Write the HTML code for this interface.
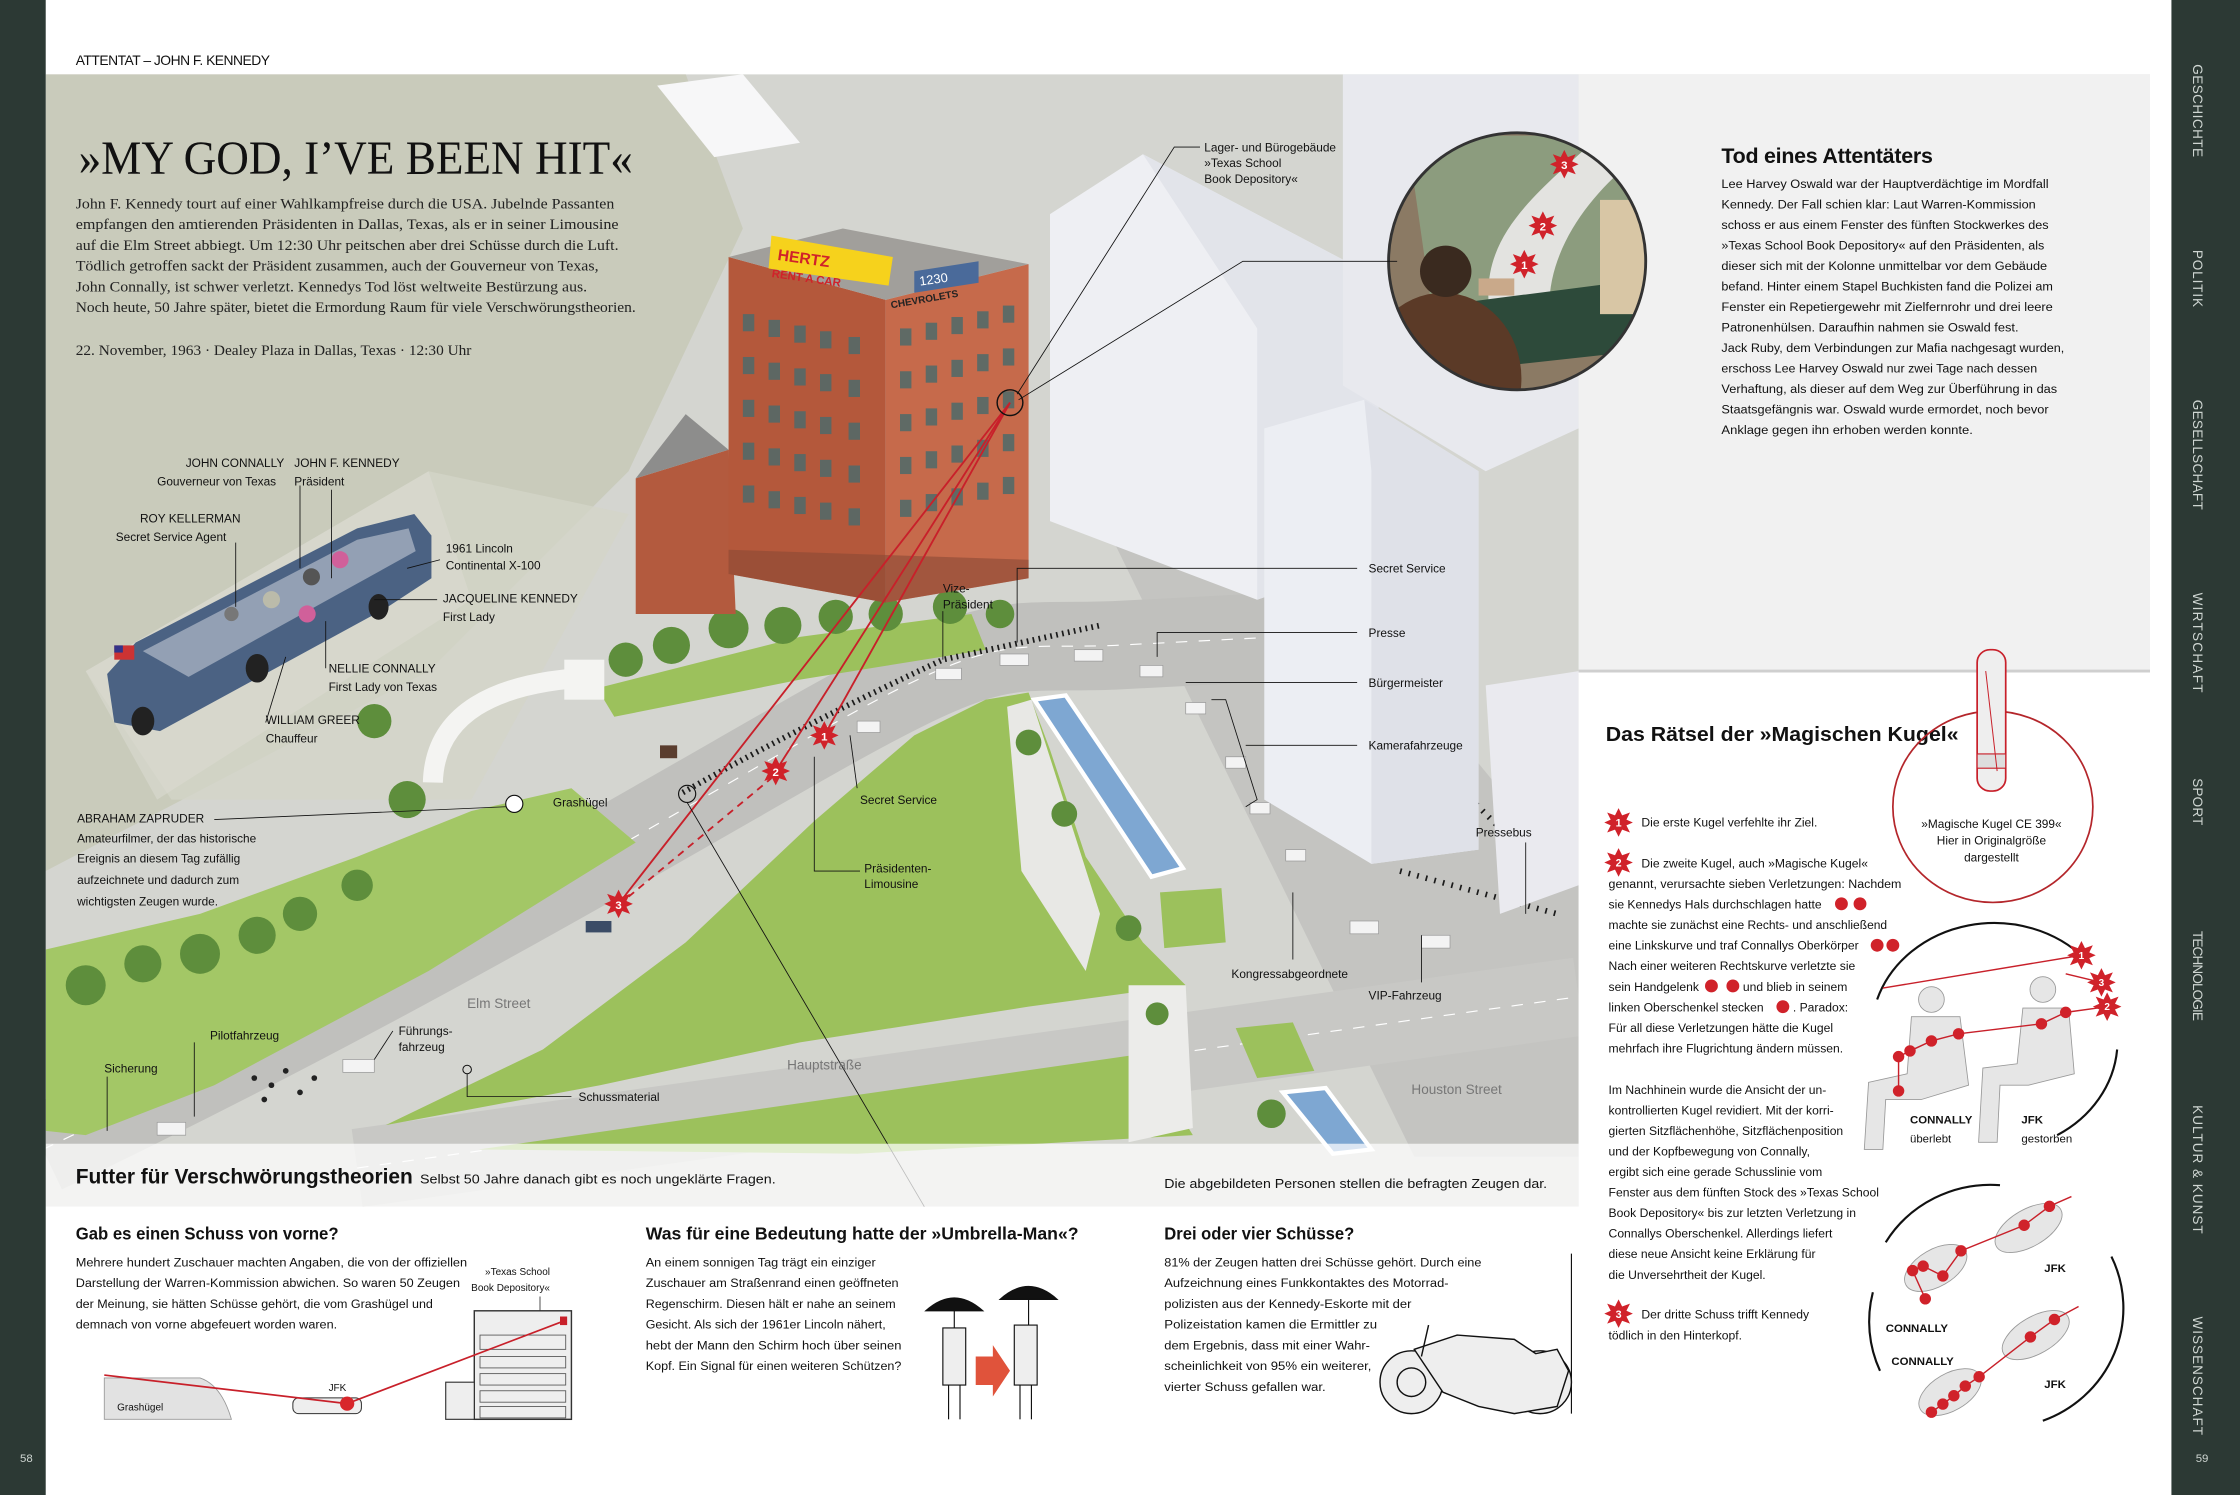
<!DOCTYPE html>
<html><head><meta charset="utf-8"><style>
html,body{margin:0;padding:0;background:#fff;}
svg{display:block;}
.n{font-family:"Liberation Sans Narrow","Liberation Sans",sans-serif;}
.s{font-family:"Liberation Sans",sans-serif;}
.sf{font-family:"Liberation Serif",serif;}
</style></head><body>
<svg width="2240" height="1495" viewBox="0 0 1568 1047" preserveAspectRatio="none" xmlns="http://www.w3.org/2000/svg">
<defs>
<clipPath id="mapclip"><rect x="32" y="52" width="1473" height="793"/></clipPath>
<clipPath id="insclip"><circle cx="1062" cy="183" r="90"/></clipPath>
<g id="star"><polygon points="0,-10 2.5,-5 8,-7 5.5,-2 10,0 5.5,2 8,7 2.5,5 0,10 -2.5,5 -8,7 -5.5,2 -10,0 -5.5,-2 -8,-7 -2.5,-5" fill="#d0222a"/><circle r="5.5" fill="#d0222a"/></g>
</defs>
<rect width="1568" height="1047" fill="#fff"/>

<!-- MAP -->
<g clip-path="url(#mapclip)">
<rect x="32" y="52" width="1473" height="793" fill="#d4d5d0"/>
<polygon points="32,52 480,52 520,160 440,330 300,470 32,610" fill="#c9cbbb"/>
<polygon points="60,470 300,330 440,360 330,560 120,560" fill="#d3d5c8" opacity="0.8"/>
<!-- roads -->
<polygon points="780,380 900,370 1105,620 1105,810 990,810" fill="#c4c4c1"/>
<path d="M30 805 C250 700 420 600 560 520 S700 455 780 452 L1010 440" stroke="#c0c0bd" stroke-width="62" fill="none"/>
<path d="M30 805 C250 700 420 600 560 520 S700 455 780 452 L1010 440" stroke="#fff" stroke-width="0.8" stroke-dasharray="8 8" fill="none"/>
<path d="M250 818 L1105 698" stroke="#c8c8c5" stroke-width="55"/>
<path d="M250 818 L1105 698" stroke="#fff" stroke-width="0.8" stroke-dasharray="8 8"/>
<!-- lawns -->
<polygon points="270,788 380,735 480,660 570,575 640,515 690,490 720,485 735,525 760,600 800,660 830,690 720,705 560,730 420,760" fill="#9cc15c"/>
<polygon points="335,805 800,738 835,795 600,808" fill="#9cc15c"/>
<polygon points="32,792 32,665 140,640 250,600 330,568 400,552 445,590 300,680 150,760 60,795" fill="#a3c766"/>
<polygon points="418,482 560,446 680,430 690,455 560,476 430,502" fill="#9cc15c"/>
<polygon points="812,625 855,622 858,660 815,664" fill="#9cc15c"/>
<polygon points="865,720 905,716 920,750 880,755" fill="#9cc15c"/>
<!-- pools & monuments -->
<polygon points="724,490 746,487 828,608 806,614" fill="#7ea7d2" stroke="#fff" stroke-width="3"/>
<polygon points="898,765 928,762 960,805 933,808" fill="#7ea7d2" stroke="#fff" stroke-width="3"/>
<path d="M303 548 Q305 478 420 474" stroke="#f4f4f2" stroke-width="14" fill="none"/>
<rect x="395" y="462" width="28" height="28" fill="#f4f4f2"/>
<polygon points="705,495 722,490 770,640 760,680 715,610" fill="#e8e8e5"/>
<polygon points="790,690 830,690 835,790 790,800" fill="#ececea"/>
<rect x="462" y="522" width="12" height="9" fill="#5a3d2e"/>
<!-- trees -->
<g fill="#5e8e3c">
<circle cx="438" cy="462" r="12"/><circle cx="470" cy="452" r="13"/><circle cx="510" cy="440" r="14"/><circle cx="548" cy="438" r="13"/><circle cx="585" cy="432" r="12"/><circle cx="620" cy="430" r="12"/><circle cx="665" cy="425" r="12"/><circle cx="700" cy="430" r="10"/>
<circle cx="60" cy="690" r="14"/><circle cx="100" cy="675" r="13"/><circle cx="140" cy="668" r="14"/><circle cx="180" cy="655" r="13"/><circle cx="210" cy="640" r="12"/><circle cx="250" cy="620" r="11"/><circle cx="285" cy="560" r="13"/><circle cx="262" cy="505" r="12"/>
<circle cx="720" cy="520" r="9"/><circle cx="745" cy="570" r="9"/><circle cx="790" cy="650" r="9"/><circle cx="890" cy="780" r="10"/><circle cx="810" cy="710" r="8"/>
</g>
<!-- crowd -->
<path d="M478 555 C540 520 600 490 660 462 L770 438" stroke="#1a1a1a" stroke-width="4" stroke-dasharray="1.2 3" fill="none"/>
<path d="M950 480 L1030 560 L1070 600 L1100 620" stroke="#1a1a1a" stroke-width="4" stroke-dasharray="1.2 5" fill="none"/>
<path d="M980 610 L1090 640" stroke="#1a1a1a" stroke-width="4" stroke-dasharray="1.2 5" fill="none"/>
<!-- cars -->
<g fill="#f3f3f3" stroke="#999" stroke-width="0.5">
<rect x="655" y="468" width="18" height="8"/><rect x="700" y="458" width="20" height="8"/><rect x="752" y="455" width="20" height="8"/><rect x="798" y="466" width="16" height="8"/><rect x="830" y="492" width="14" height="8"/><rect x="858" y="530" width="14" height="8"/><rect x="875" y="562" width="14" height="8"/><rect x="900" y="595" width="14" height="8"/><rect x="945" y="645" width="20" height="9"/><rect x="995" y="655" width="20" height="9"/><rect x="600" y="505" width="16" height="8"/><rect x="240" y="742" width="22" height="9"/><rect x="110" y="786" width="20" height="9"/>
</g>
<rect x="410" y="645" width="18" height="8" fill="#3b4c66"/>
<g fill="#222"><circle cx="178" cy="755" r="2"/><circle cx="190" cy="760" r="2"/><circle cx="200" cy="750" r="2"/><circle cx="210" cy="765" r="2"/><circle cx="185" cy="770" r="2"/><circle cx="220" cy="755" r="2"/></g>
<!-- white buildings -->
<polygon points="460,60 520,52 560,100 500,110" fill="#f7f7f8"/>
<polygon points="735,150 800,108 965,195 965,390 880,420 735,365" fill="#eeeff3"/>
<polygon points="800,108 965,195 965,390 880,420 880,230" fill="#e2e4ea"/>
<polygon points="885,300 955,280 1035,330 1035,595 960,605 885,560" fill="#eceef3"/>
<polygon points="955,280 1035,330 1035,595 960,605 960,330" fill="#dfe1e8"/>
<polygon points="940,52 1105,52 1105,300 1040,330 940,270" fill="#e8e9ee"/>
<polygon points="1040,480 1105,470 1105,620 1050,640" fill="#eaeaef"/>
<!-- depository -->
<polygon points="445,335 510,315 515,430 445,430" fill="#b35a3e"/>
<polygon points="445,335 480,290 510,315" fill="#8d8d8c"/>
<polygon points="510,180 620,210 620,422 510,402" fill="#b4583b"/>
<polygon points="620,210 720,185 720,405 620,422" fill="#c66a4b"/>
<polygon points="510,180 590,160 720,185 620,210" fill="#a19f9b"/>
<g fill="#4e6a6a" opacity="0.85">
<rect x="520" y="220" width="8" height="12"/><rect x="538" y="224" width="8" height="12"/><rect x="556" y="228" width="8" height="12"/><rect x="574" y="232" width="8" height="12"/><rect x="594" y="236" width="8" height="12"/>
<rect x="520" y="250" width="8" height="12"/><rect x="538" y="254" width="8" height="12"/><rect x="556" y="258" width="8" height="12"/><rect x="574" y="262" width="8" height="12"/><rect x="594" y="266" width="8" height="12"/>
<rect x="520" y="280" width="8" height="12"/><rect x="538" y="284" width="8" height="12"/><rect x="556" y="288" width="8" height="12"/><rect x="574" y="292" width="8" height="12"/><rect x="594" y="296" width="8" height="12"/>
<rect x="520" y="310" width="8" height="12"/><rect x="538" y="314" width="8" height="12"/><rect x="556" y="318" width="8" height="12"/><rect x="574" y="322" width="8" height="12"/><rect x="594" y="326" width="8" height="12"/>
<rect x="520" y="340" width="8" height="12"/><rect x="538" y="344" width="8" height="12"/><rect x="556" y="348" width="8" height="12"/><rect x="574" y="352" width="8" height="12"/><rect x="594" y="356" width="8" height="12"/>
<rect x="630" y="230" width="8" height="12"/><rect x="648" y="226" width="8" height="12"/><rect x="666" y="222" width="8" height="12"/><rect x="684" y="218" width="8" height="12"/><rect x="702" y="214" width="8" height="12"/>
<rect x="630" y="260" width="8" height="12"/><rect x="648" y="256" width="8" height="12"/><rect x="666" y="252" width="8" height="12"/><rect x="684" y="248" width="8" height="12"/><rect x="702" y="244" width="8" height="12"/>
<rect x="630" y="290" width="8" height="12"/><rect x="648" y="286" width="8" height="12"/><rect x="666" y="282" width="8" height="12"/><rect x="684" y="278" width="8" height="12"/><rect x="702" y="274" width="8" height="12"/>
<rect x="630" y="320" width="8" height="12"/><rect x="648" y="316" width="8" height="12"/><rect x="666" y="312" width="8" height="12"/><rect x="684" y="308" width="8" height="12"/><rect x="702" y="304" width="8" height="12"/>
<rect x="630" y="350" width="8" height="12"/><rect x="648" y="346" width="8" height="12"/><rect x="666" y="342" width="8" height="12"/><rect x="684" y="338" width="8" height="12"/><rect x="702" y="334" width="8" height="12"/>
</g>
<polygon points="510,385 720,392 720,405 620,422 510,402" fill="#8a4a35" opacity="0.6"/>
<polygon points="540,165 625,180 622,200 538,188" fill="#f6d21c"/>
<text x="544" y="182" class="s" font-size="11" font-weight="bold" fill="#d0222a" transform="rotate(8 544 182)">HERTZ</text>
<text x="540" y="194" class="s" font-size="8" font-weight="bold" fill="#d0222a" transform="rotate(8 540 194)">RENT A CAR</text>
<polygon points="640,190 685,183 685,198 640,205" fill="#4a6a9a"/>
<text x="644" y="200" class="s" font-size="9" fill="#fff" transform="rotate(-8 644 200)">1230</text>
<text x="624" y="216" class="s" font-size="7" font-weight="bold" fill="#222" transform="rotate(-10 624 216)">CHEVROLETS</text>
<!-- car inset -->
<polygon points="60,470 300,330 330,420 110,560" fill="#dadbd0" opacity="0.6"/>
<polygon points="75,472 95,450 250,370 290,360 302,375 302,405 270,426 112,512 80,506" fill="#4b6283"/>
<polygon points="100,456 250,378 286,370 291,386 132,474" fill="#93a0b4"/>
<circle cx="190" cy="420" r="6" fill="#bba"/><circle cx="218" cy="404" r="6" fill="#555"/><circle cx="238" cy="392" r="6" fill="#d0609a"/><circle cx="215" cy="430" r="6" fill="#d0609a"/><circle cx="162" cy="430" r="5" fill="#777"/>
<ellipse cx="100" cy="505" rx="8" ry="10" fill="#222"/><ellipse cx="180" cy="468" rx="8" ry="10" fill="#222"/><ellipse cx="265" cy="425" rx="7" ry="9" fill="#222"/>
<rect x="80" y="452" width="14" height="10" fill="#c33"/><rect x="80" y="452" width="6" height="5" fill="#338"/>
<!-- shot lines -->
<g stroke="#c8202a" stroke-width="1.3" fill="none">
<line x1="707" y1="282" x2="577" y2="515"/><line x1="707" y1="282" x2="543" y2="540"/><line x1="707" y1="282" x2="433" y2="633"/>
<line x1="440" y1="628" x2="540" y2="545" stroke-dasharray="5 4"/>
</g>
<use href="#star" x="577" y="515"/><text x="577" y="518.5" class="s" font-size="8" font-weight="bold" fill="#fff" text-anchor="middle">1</text>
<use href="#star" x="543" y="540"/><text x="543" y="543.5" class="s" font-size="8" font-weight="bold" fill="#fff" text-anchor="middle">2</text>
<use href="#star" x="433" y="633"/><text x="433" y="636.5" class="s" font-size="8" font-weight="bold" fill="#fff" text-anchor="middle">3</text>
<circle cx="707" cy="282" r="9" fill="none" stroke="#111" stroke-width="1"/>
<circle cx="360" cy="563" r="6" fill="#fff" stroke="#111" stroke-width="0.8"/>
<circle cx="481" cy="556" r="6" fill="none" stroke="#111" stroke-width="0.8"/>
<!-- right top faded -->
<rect x="1105" y="52" width="400" height="420" fill="#f4f4f4" opacity="0.9"/>
</g>

<!-- circle inset -->
<g clip-path="url(#insclip)">
<rect x="970" y="90" width="185" height="185" fill="#8b7a64"/>
<polygon points="985,95 1140,95 1140,205 1005,235" fill="#8c9c7e"/>
<path d="M1120 95 C1070 140 1030 170 1045 230 L1085 225 C1080 180 1110 140 1140 115 Z" fill="#e3e3e0"/>
<polygon points="1000,215 1155,195 1155,245 1000,262" fill="#2d4a3a"/>
<rect x="1120" y="140" width="40" height="80" fill="#d8c6a5"/>
<ellipse cx="1010" cy="265" rx="55" ry="60" fill="#5b3a27"/>
<circle cx="1012" cy="190" r="18" fill="#3a2a1f"/>
<rect x="1035" y="195" width="25" height="12" fill="#c9a98a"/>
</g>
<circle cx="1062" cy="183" r="90" fill="none" stroke="#333" stroke-width="2"/>
<use href="#star" x="1067" y="185" transform="translate(0,0)"/><text x="1067" y="188.5" class="s" font-size="8" font-weight="bold" fill="#fff" text-anchor="middle">1</text>
<use href="#star" x="1080" y="158"/><text x="1080" y="161.5" class="s" font-size="8" font-weight="bold" fill="#fff" text-anchor="middle">2</text>
<use href="#star" x="1095" y="115"/><text x="1095" y="118.5" class="s" font-size="8" font-weight="bold" fill="#fff" text-anchor="middle">3</text>

<!-- leader lines -->
<g stroke="#111" stroke-width="0.6" fill="none">
<polyline points="840,103 822,103 712,276"/>
<polyline points="978,183 870,183 713,280"/>
<line x1="232" y1="343" x2="232" y2="405"/><line x1="210" y1="340" x2="210" y2="398"/><line x1="165" y1="380" x2="165" y2="425"/>
<line x1="308" y1="392" x2="285" y2="398"/><line x1="306" y1="420" x2="262" y2="420"/><line x1="228" y1="468" x2="228" y2="435"/><line x1="186" y1="506" x2="200" y2="460"/>
<line x1="150" y1="574" x2="354" y2="565"/>
<line x1="660" y1="428" x2="660" y2="462"/>
<polyline points="950,398 712,398 712,450"/>
<polyline points="950,443 810,443 810,460"/>
<line x1="950" y1="478" x2="830" y2="478"/>
<polyline points="950,522 872,522"/><polyline points="848,490 858,490 880,560 872,565"/>
<line x1="600" y1="552" x2="595" y2="515"/>
<polyline points="602,610 570,610 570,530"/>
<line x1="1068" y1="590" x2="1068" y2="640"/>
<line x1="905" y1="672" x2="905" y2="625"/>
<line x1="995" y1="688" x2="995" y2="655"/>
<line x1="136" y1="730" x2="136" y2="782"/><line x1="75" y1="754" x2="75" y2="792"/><line x1="275" y1="722" x2="262" y2="742"/>
<polyline points="400,768 327,768 327,752"/>
<line x1="481" y1="562" x2="647" y2="845"/>
</g>
<circle cx="327" cy="749" r="3" fill="none" stroke="#111" stroke-width="0.7"/>

<!-- map labels -->
<g class="n" font-size="8.3" fill="#111">
<text x="843" y="106">Lager- und Bürogebäude</text><text x="843" y="117">»Texas School</text><text x="843" y="128">Book Depository«</text>
<text x="130" y="327">JOHN CONNALLY</text><text x="110" y="340">Gouverneur von Texas</text>
<text x="206" y="327">JOHN F. KENNEDY</text><text x="206" y="340">Präsident</text>
<text x="98" y="366">ROY KELLERMAN</text><text x="81" y="379">Secret Service Agent</text>
<text x="312" y="387">1961 Lincoln</text><text x="312" y="399">Continental X-100</text>
<text x="310" y="422">JACQUELINE KENNEDY</text><text x="310" y="435">First Lady</text>
<text x="230" y="471">NELLIE CONNALLY</text><text x="230" y="484">First Lady von Texas</text>
<text x="186" y="507">WILLIAM GREER</text><text x="186" y="520">Chauffeur</text>
<text x="54" y="576">ABRAHAM ZAPRUDER</text>
<text x="54" y="590">Amateurfilmer, der das historische</text><text x="54" y="604">Ereignis an diesem Tag zufällig</text><text x="54" y="619">aufzeichnete und dadurch zum</text><text x="54" y="634">wichtigsten Zeugen wurde.</text>
<text x="387" y="565">Grashügel</text>
<text x="660" y="415">Vize-</text><text x="660" y="426">Präsident</text>
<text x="958" y="401">Secret Service</text><text x="958" y="446">Presse</text><text x="958" y="481">Bürgermeister</text><text x="958" y="525">Kamerafahrzeuge</text>
<text x="602" y="563">Secret Service</text><text x="605" y="611">Präsidenten-</text><text x="605" y="622">Limousine</text>
<text x="1033" y="586">Pressebus</text><text x="862" y="685">Kongressabgeordnete</text><text x="958" y="700">VIP-Fahrzeug</text>
<text x="147" y="728">Pilotfahrzeug</text><text x="279" y="725">Führungs-</text><text x="279" y="736">fahrzeug</text><text x="73" y="751">Sicherung</text><text x="405" y="771">Schussmaterial</text>
</g>
<g class="n" font-size="9.5" fill="#777"><text x="327" y="706">Elm Street</text><text x="551" y="749">Hauptstraße</text><text x="988" y="766">Houston Street</text></g>

<!-- intro -->
<text x="53" y="45.5" class="n" font-size="9.7" fill="#111" textLength="136">ATTENTAT – JOHN F. KENNEDY</text>
<text x="55" y="122" class="sf" font-size="33" fill="#111" textLength="388" lengthAdjust="spacingAndGlyphs">»MY GOD, I’VE BEEN HIT«</text>
<g class="sf" font-size="10.5" fill="#222">
<text x="53" y="146" textLength="377" lengthAdjust="spacingAndGlyphs">John F. Kennedy tourt auf einer Wahlkampfreise durch die USA. Jubelnde Passanten</text>
<text x="53" y="160.5" textLength="380" lengthAdjust="spacingAndGlyphs">empfangen den amtierenden Präsidenten in Dallas, Texas, als er in seiner Limousine</text>
<text x="53" y="175" textLength="380" lengthAdjust="spacingAndGlyphs">auf die Elm Street abbiegt. Um 12:30 Uhr peitschen aber drei Schüsse durch die Luft.</text>
<text x="53" y="189.5" textLength="366" lengthAdjust="spacingAndGlyphs">Tödlich getroffen sackt der Präsident zusammen, auch der Gouverneur von Texas,</text>
<text x="53" y="204" textLength="358" lengthAdjust="spacingAndGlyphs">John Connally, ist schwer verletzt. Kennedys Tod löst weltweite Bestürzung aus.</text>
<text x="53" y="218.5" textLength="392" lengthAdjust="spacingAndGlyphs">Noch heute, 50 Jahre später, bietet die Ermordung Raum für viele Verschwörungstheorien.</text>
<text x="53" y="248.5" textLength="277" lengthAdjust="spacingAndGlyphs">22. November, 1963 · Dealey Plaza in Dallas, Texas · 12:30 Uhr</text>
</g>

<!-- Tod eines Attentäters -->
<text x="1205" y="114" class="s" font-size="15" font-weight="bold" fill="#111" textLength="148">Tod eines Attentäters</text>
<g class="n" font-size="8.6" fill="#111">
<text x="1205" y="131.6" textLength="229" lengthAdjust="spacingAndGlyphs">Lee Harvey Oswald war der Hauptverdächtige im Mordfall</text>
<text x="1205" y="146" textLength="220" lengthAdjust="spacingAndGlyphs">Kennedy. Der Fall schien klar: Laut Warren-Kommission</text>
<text x="1205" y="160.3" textLength="229" lengthAdjust="spacingAndGlyphs">schoss er aus einem Fenster des fünften Stockwerkes des</text>
<text x="1205" y="174.7" textLength="226" lengthAdjust="spacingAndGlyphs">»Texas School Book Depository« auf den Präsidenten, als</text>
<text x="1205" y="189" textLength="228" lengthAdjust="spacingAndGlyphs">dieser sich mit der Kolonne unmittelbar vor dem Gebäude</text>
<text x="1205" y="203.4" textLength="232" lengthAdjust="spacingAndGlyphs">befand. Hinter einem Stapel Buchkisten fand die Polizei am</text>
<text x="1205" y="217.7" textLength="232" lengthAdjust="spacingAndGlyphs">Fenster ein Repetiergewehr mit Zielfernrohr und drei leere</text>
<text x="1205" y="232" textLength="208" lengthAdjust="spacingAndGlyphs">Patronenhülsen. Daraufhin nahmen sie Oswald fest.</text>
<text x="1205" y="246.4" textLength="240" lengthAdjust="spacingAndGlyphs">Jack Ruby, dem Verbindungen zur Mafia nachgesagt wurden,</text>
<text x="1205" y="260.8" textLength="221" lengthAdjust="spacingAndGlyphs">erschoss Lee Harvey Oswald nur zwei Tage nach dessen</text>
<text x="1205" y="275.2" textLength="235" lengthAdjust="spacingAndGlyphs">Verhaftung, als dieser auf dem Weg zur Überführung in das</text>
<text x="1205" y="289.5" textLength="229" lengthAdjust="spacingAndGlyphs">Staatsgefängnis war. Oswald wurde ermordet, noch bevor</text>
<text x="1205" y="303.9" textLength="176" lengthAdjust="spacingAndGlyphs">Anklage gegen ihn erhoben werden konnte.</text>
</g>

<!-- footer strip over map -->
<rect x="32" y="801" width="1073" height="44" fill="#fff" opacity="0.72"/>
<text x="53" y="829" class="n" font-size="15" font-weight="bold" fill="#111" textLength="236" lengthAdjust="spacingAndGlyphs">Futter für Verschwörungstheorien</text>
<text x="294" y="829" class="n" font-size="9" fill="#111" textLength="249" lengthAdjust="spacingAndGlyphs">Selbst 50 Jahre danach gibt es noch ungeklärte Fragen.</text>
<text x="815" y="832" class="n" font-size="9" fill="#111" textLength="268" lengthAdjust="spacingAndGlyphs">Die abgebildeten Personen stellen die befragten Zeugen dar.</text>

<!-- right lower panel -->
<rect x="1105" y="470" width="400" height="577" fill="#fff"/>
<line x1="1105" y1="470" x2="1505" y2="470" stroke="#cfcfcf" stroke-width="2"/>
<text x="1124" y="519" class="s" font-size="14" font-weight="bold" fill="#111" textLength="247" lengthAdjust="spacingAndGlyphs">Das Rätsel der »Magischen Kugel«</text>
<ellipse cx="1395" cy="565" rx="70" ry="67" fill="none" stroke="#b4262b" stroke-width="1.2"/>
<rect x="1384" y="455" width="20" height="99" rx="9" fill="#eeeeee" stroke="#c8202a" stroke-width="1.2"/>
<rect x="1384" y="528" width="20" height="10" fill="#ddd" stroke="#c8202a" stroke-width="0.8"/>
<line x1="1390" y1="470" x2="1398" y2="540" stroke="#c8202a" stroke-width="0.7"/>
<g class="s" font-size="8.3" fill="#111" text-anchor="middle"><text x="1394" y="580">»Magische Kugel CE 399«</text><text x="1394" y="591.5">Hier in Originalgröße</text><text x="1394" y="603.5">dargestellt</text></g>
<g class="s" font-size="8.5" fill="#111">
<text x="1149" y="579">Die erste Kugel verfehlte ihr Ziel.</text>
<text x="1149" y="607.5">Die zweite Kugel, auch »Magische Kugel«</text>
<text x="1126" y="621.9" textLength="205" lengthAdjust="spacingAndGlyphs">genannt, verursachte sieben Verletzungen: Nachdem</text>
<text x="1126" y="636.3">sie Kennedys Hals durchschlagen hatte</text>
<text x="1126" y="650.7" textLength="195" lengthAdjust="spacingAndGlyphs">machte sie zunächst eine Rechts- und anschließend</text>
<text x="1126" y="665.1">eine Linkskurve und traf Connallys Oberkörper</text>
<text x="1126" y="679.5">Nach einer weiteren Rechtskurve verletzte sie</text>
<text x="1126" y="693.9">sein Handgelenk</text><text x="1220" y="693.9">und blieb in seinem</text>
<text x="1126" y="708.3">linken Oberschenkel stecken</text><text x="1255" y="708.3">. Paradox:</text>
<text x="1126" y="722.7">Für all diese Verletzungen hätte die Kugel</text>
<text x="1126" y="737.1">mehrfach ihre Flugrichtung ändern müssen.</text>
<text x="1126" y="766">Im Nachhinein wurde die Ansicht der un-</text>
<text x="1126" y="780.4">kontrollierten Kugel revidiert. Mit der korri-</text>
<text x="1126" y="794.8">gierten Sitzflächenhöhe, Sitzflächenposition</text>
<text x="1126" y="809.2">und der Kopfbewegung von Connally,</text>
<text x="1126" y="823.6">ergibt sich eine gerade Schusslinie vom</text>
<text x="1126" y="838">Fenster aus dem fünften Stock des »Texas School</text>
<text x="1126" y="852.4">Book Depository« bis zur letzten Verletzung in</text>
<text x="1126" y="866.8">Connallys Oberschenkel. Allerdings liefert</text>
<text x="1126" y="881.2">diese neue Ansicht keine Erklärung für</text>
<text x="1126" y="895.6">die Unversehrtheit der Kugel.</text>
<text x="1149" y="923.5">Der dritte Schuss trifft Kennedy</text>
<text x="1126" y="938">tödlich in den Hinterkopf.</text>
</g>
<use href="#star" x="1133" y="576"/><text x="1133" y="579" class="s" font-size="7.5" font-weight="bold" fill="#fff" text-anchor="middle">1</text>
<use href="#star" x="1133" y="604"/><text x="1133" y="607" class="s" font-size="7.5" font-weight="bold" fill="#fff" text-anchor="middle">2</text>
<use href="#star" x="1133" y="920"/><text x="1133" y="923" class="s" font-size="7.5" font-weight="bold" fill="#fff" text-anchor="middle">3</text>
<g fill="#d0222a"><circle cx="1289" cy="633" r="4.5"/><circle cx="1302" cy="633" r="4.5"/><circle cx="1314" cy="662" r="4.5"/><circle cx="1325" cy="662" r="4.5"/><circle cx="1198" cy="690.5" r="4.5"/><circle cx="1213" cy="690.5" r="4.5"/><circle cx="1248" cy="705" r="4.5"/></g>

<!-- seat diagram 1 -->
<path d="M1314 700 A86 77 0 0 1 1460 672" fill="none" stroke="#111" stroke-width="1.5"/>
<path d="M1482 735 A86 77 0 0 1 1440 795" fill="none" stroke="#111" stroke-width="1.5"/>
<g fill="#e6e6e6" stroke="#999" stroke-width="0.6">
<circle cx="1352" cy="700" r="9"/><path d="M1338 712 L1372 712 L1378 760 L1345 770 L1320 770 L1318 805 L1305 805 L1308 758 L1335 752 Z"/>
<circle cx="1430" cy="693" r="9"/><path d="M1416 706 L1448 706 L1452 752 L1420 760 L1400 760 L1398 800 L1385 800 L1388 748 L1412 745 Z"/>
</g>
<line x1="1318" y1="692" x2="1457" y2="669" stroke="#c8202a" stroke-width="1"/>
<line x1="1446" y1="682" x2="1471" y2="688" stroke="#c8202a" stroke-width="1"/>
<polyline points="1329,764 1329,740 1337,736 1352,729 1371,724 1429,717 1446,709 1475,705" fill="none" stroke="#c8202a" stroke-width="1"/>
<use href="#star" x="1457" y="669"/><use href="#star" x="1471" y="688"/><use href="#star" x="1475" y="705"/>
<g class="s" font-size="7" font-weight="bold" fill="#fff" text-anchor="middle"><text x="1457" y="671.5">1</text><text x="1471" y="690.5">3</text><text x="1475" y="707.5">2</text></g>
<g fill="#d0222a"><circle cx="1329" cy="764" r="4"/><circle cx="1329" cy="740" r="4"/><circle cx="1337" cy="736" r="4"/><circle cx="1352" cy="729" r="4"/><circle cx="1371" cy="724" r="4"/><circle cx="1429" cy="717" r="4"/><circle cx="1446" cy="709" r="4"/></g>
<g class="s" font-size="8" font-weight="bold" fill="#111"><text x="1337" y="787">CONNALLY</text><text x="1415" y="787">JFK</text></g>
<g class="s" font-size="8" fill="#111"><text x="1337" y="800">überlebt</text><text x="1415" y="800">gestorben</text></g>

<!-- seat diagrams 2/3 -->
<path d="M1320 870 A86 84 0 0 1 1400 830" fill="none" stroke="#111" stroke-width="1.5"/>
<path d="M1478 880 A86 84 0 0 1 1430 995" fill="none" stroke="#111" stroke-width="1.5"/>
<path d="M1316 960 A86 84 0 0 1 1311 905" fill="none" stroke="#111" stroke-width="1.5"/>
<g fill="#e6e6e6" stroke="#999" stroke-width="0.6">
<ellipse cx="1420" cy="860" rx="26" ry="13" transform="rotate(-30 1420 860)"/><ellipse cx="1355" cy="888" rx="24" ry="13" transform="rotate(-30 1355 888)"/>
<ellipse cx="1425" cy="935" rx="26" ry="13" transform="rotate(-30 1425 935)"/><ellipse cx="1365" cy="975" rx="24" ry="13" transform="rotate(-30 1365 975)"/>
</g>
<polyline points="1450,838 1434.6,844.8 1416.9,858.1 1372.7,876 1360,893.6 1346.2,886.7 1338.8,889.8 1347.7,909.6" fill="none" stroke="#c8202a" stroke-width="1"/>
<polyline points="1455,915 1438.1,924.1 1421.3,936.3 1385.4,964.2 1375.7,970.7 1367.7,977.5 1360,983.3 1352,989" fill="none" stroke="#c8202a" stroke-width="1"/>
<g fill="#d0222a"><circle cx="1434.6" cy="844.8" r="4"/><circle cx="1416.9" cy="858.1" r="4"/><circle cx="1372.7" cy="876" r="4"/><circle cx="1360" cy="893.6" r="4"/><circle cx="1346.2" cy="886.7" r="4"/><circle cx="1338.8" cy="889.8" r="4"/><circle cx="1347.7" cy="909.6" r="4"/>
<circle cx="1438.1" cy="924.1" r="4"/><circle cx="1421.3" cy="936.3" r="4"/><circle cx="1385.4" cy="964.2" r="4"/><circle cx="1375.7" cy="970.7" r="4"/><circle cx="1367.7" cy="977.5" r="4"/><circle cx="1360" cy="983.3" r="4"/><circle cx="1352" cy="989" r="4"/></g>
<g class="s" font-size="8" font-weight="bold" fill="#111"><text x="1431" y="891">JFK</text><text x="1320" y="933">CONNALLY</text><text x="1324" y="956">CONNALLY</text><text x="1431" y="972">JFK</text></g>

<!-- bottom columns -->
<g class="n" font-size="12.5" font-weight="bold" fill="#111">
<text x="53" y="868" textLength="184" lengthAdjust="spacingAndGlyphs">Gab es einen Schuss von vorne?</text>
<text x="452" y="868" textLength="303" lengthAdjust="spacingAndGlyphs">Was für eine Bedeutung hatte der »Umbrella-Man«?</text>
<text x="815" y="868" textLength="133" lengthAdjust="spacingAndGlyphs">Drei oder vier Schüsse?</text>
</g>
<g class="n" font-size="8.6" fill="#111">
<text x="53" y="887" textLength="274" lengthAdjust="spacingAndGlyphs">Mehrere hundert Zuschauer machten Angaben, die von der offiziellen</text>
<text x="53" y="901.5" textLength="269" lengthAdjust="spacingAndGlyphs">Darstellung der Warren-Kommission abwichen. So waren 50 Zeugen</text>
<text x="53" y="916" textLength="250" lengthAdjust="spacingAndGlyphs">der Meinung, sie hätten Schüsse gehört, die vom Grashügel und</text>
<text x="53" y="930.5" textLength="183" lengthAdjust="spacingAndGlyphs">demnach von vorne abgefeuert worden waren.</text>
<text x="452" y="887" textLength="161" lengthAdjust="spacingAndGlyphs">An einem sonnigen Tag trägt ein einziger</text>
<text x="452" y="901.5" textLength="177" lengthAdjust="spacingAndGlyphs">Zuschauer am Straßenrand einen geöffneten</text>
<text x="452" y="916" textLength="175" lengthAdjust="spacingAndGlyphs">Regenschirm. Diesen hält er nahe an seinem</text>
<text x="452" y="930.5" textLength="168" lengthAdjust="spacingAndGlyphs">Gesicht. Als sich der 1961er Lincoln nähert,</text>
<text x="452" y="945" textLength="179" lengthAdjust="spacingAndGlyphs">hebt der Mann den Schirm hoch über seinen</text>
<text x="452" y="959.5" textLength="179" lengthAdjust="spacingAndGlyphs">Kopf. Ein Signal für einen weiteren Schützen?</text>
<text x="815" y="887" textLength="222" lengthAdjust="spacingAndGlyphs">81% der Zeugen hatten drei Schüsse gehört. Durch eine</text>
<text x="815" y="901.5" textLength="199" lengthAdjust="spacingAndGlyphs">Aufzeichnung eines Funkkontaktes des Motorrad-</text>
<text x="815" y="916" textLength="173" lengthAdjust="spacingAndGlyphs">polizisten aus der Kennedy-Eskorte mit der</text>
<text x="815" y="930.5" textLength="149" lengthAdjust="spacingAndGlyphs">Polizeistation kamen die Ermittler zu</text>
<text x="815" y="945" textLength="144" lengthAdjust="spacingAndGlyphs">dem Ergebnis, dass mit einer Wahr-</text>
<text x="815" y="959.5" textLength="145" lengthAdjust="spacingAndGlyphs">scheinlichkeit von 95% ein weiterer,</text>
<text x="815" y="974" textLength="113" lengthAdjust="spacingAndGlyphs">vierter Schuss gefallen war.</text>
</g>
<!-- diagram 1 -->
<path d="M73 965 L140 965 Q155 970 162 994 L73 994 Z" fill="#e2e2e2" stroke="#999" stroke-width="0.6"/>
<text x="82" y="988" class="n" font-size="7" fill="#111">Grashügel</text>
<rect x="332" y="918" width="68" height="76" fill="#eee" stroke="#333" stroke-width="1"/>
<rect x="312" y="968" width="20" height="26" fill="#eee" stroke="#333" stroke-width="0.8"/>
<g fill="none" stroke="#555" stroke-width="0.6">
<rect x="336" y="935" width="60" height="10"/><rect x="336" y="950" width="60" height="8"/><rect x="336" y="962" width="60" height="8"/><rect x="336" y="974" width="60" height="8"/><rect x="336" y="985" width="60" height="8"/></g>
<text x="385" y="893" class="n" font-size="7" fill="#111" text-anchor="end">»Texas School</text><text x="385" y="904" class="n" font-size="7" fill="#111" text-anchor="end">Book Depository«</text>
<line x1="378" y1="908" x2="378" y2="918" stroke="#333" stroke-width="0.6"/>
<rect x="205" y="979" width="48" height="11" rx="4" fill="#eee" stroke="#333" stroke-width="0.7"/>
<line x1="73" y1="963" x2="243" y2="983" stroke="#c8202a" stroke-width="1.2"/>
<line x1="395" y1="925" x2="243" y2="983" stroke="#c8202a" stroke-width="1.2"/>
<rect x="392" y="922" width="5" height="6" fill="#c8202a"/>
<use href="#star" x="243" y="983" transform="translate(-24.3,-98.3) scale(1.1)" opacity="0"/>
<circle cx="243" cy="983" r="5" fill="#d8262b"/>
<text x="230" y="974" class="n" font-size="7" fill="#111">JFK</text>
<!-- umbrella men -->
<g stroke="#111" stroke-width="0.8" fill="#eee">
<path d="M648 918 Q668 900 688 918 Z" fill="#111"/><line x1="668" y1="918" x2="668" y2="930"/>
<rect x="660" y="930" width="16" height="40"/><line x1="664" y1="970" x2="664" y2="994"/><line x1="672" y1="970" x2="672" y2="994"/>
<path d="M700 910 Q720 892 740 910 Z" fill="#111"/><line x1="720" y1="910" x2="720" y2="928"/>
<rect x="710" y="928" width="16" height="42"/><line x1="714" y1="970" x2="714" y2="994"/><line x1="722" y1="970" x2="722" y2="994"/>
</g>
<polygon points="683,950 695,950 695,942 707,960 695,978 695,970 683,970" fill="#e0533b"/>
<!-- motorcycle -->
<line x1="1100" y1="878" x2="1100" y2="990" stroke="#111" stroke-width="0.8"/>
<g fill="#eee" stroke="#111" stroke-width="1">
<circle cx="988" cy="968" r="22"/><circle cx="988" cy="968" r="10"/><circle cx="1078" cy="968" r="22"/>
<path d="M990 945 L1020 935 L1060 938 L1075 948 L1090 945 L1098 960 L1090 985 L1060 990 L1035 985 L1010 975 Z"/>
<line x1="1000" y1="928" x2="995" y2="950"/>
</g>

<!-- side bars -->
<rect x="0" y="0" width="32" height="1047" fill="#2c3934"/>
<rect x="1520" y="0" width="48" height="1047" fill="#2c3934"/>
<g class="n" font-size="9.5" fill="#cfd6d2">
<text transform="translate(1535,45) rotate(90)" textLength="65">GESCHICHTE</text>
<text transform="translate(1535,175) rotate(90)" textLength="40">POLITIK</text>
<text transform="translate(1535,280) rotate(90)" textLength="77">GESELLSCHAFT</text>
<text transform="translate(1535,415) rotate(90)" textLength="70">WIRTSCHAFT</text>
<text transform="translate(1535,545) rotate(90)" textLength="33">SPORT</text>
<text transform="translate(1535,652) rotate(90)" textLength="63">TECHNOLOGIE</text>
<text transform="translate(1535,774) rotate(90)" textLength="90">KULTUR &amp; KUNST</text>
<text transform="translate(1535,922) rotate(90)" textLength="83">WISSENSCHAFT</text>
<text x="1537" y="1024" font-size="8">59</text>
<text x="14" y="1024" font-size="8">58</text>
</g>
</svg>
</body></html>
